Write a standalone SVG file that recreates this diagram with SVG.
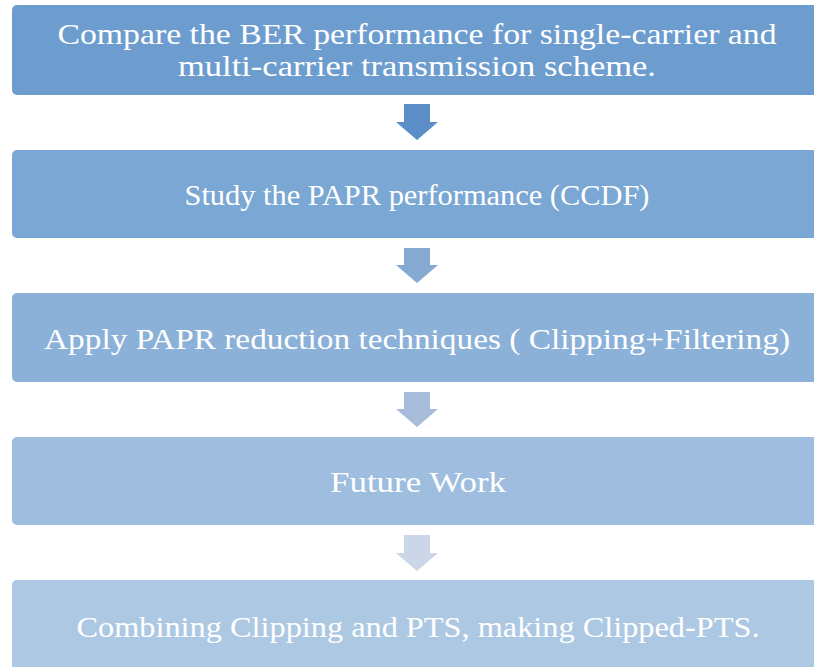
<svg xmlns="http://www.w3.org/2000/svg" width="814" height="667" viewBox="0 0 814 667">
<style>
.box{stroke:none}
.t{font-family:"Liberation Serif",serif;font-size:30px;fill:#ffffff;text-anchor:middle}
</style>
<rect width="814" height="667" fill="#ffffff"/>
<g id="node1">
<rect class="box" x="12" y="5" width="820" height="90" rx="5" fill="#6d9dce"/>
<text class="t" x="417" y="44" textLength="719" lengthAdjust="spacingAndGlyphs">Compare the BER performance for single-carrier and</text>
<text class="t" x="417" y="76" textLength="478" lengthAdjust="spacingAndGlyphs">multi-carrier transmission scheme.</text>
</g>
<g id="node2">
<rect class="box" x="12" y="150" width="820" height="88" rx="5" fill="#7ba7d4"/>
<text class="t" x="417" y="205" textLength="465" lengthAdjust="spacingAndGlyphs">Study the PAPR performance (CCDF)</text>
</g>
<g id="node3">
<rect class="box" x="12" y="293" width="820" height="89" rx="5" fill="#8cb1d9"/>
<text class="t" x="417" y="349" textLength="746" lengthAdjust="spacingAndGlyphs">Apply PAPR reduction techniques ( Clipping+Filtering)</text>
</g>
<g id="node4">
<rect class="box" x="12" y="437" width="820" height="88" rx="5" fill="#9ebddf"/>
<text class="t" x="418" y="492" textLength="176" lengthAdjust="spacingAndGlyphs">Future Work</text>
</g>
<g id="node5">
<rect class="box" x="12" y="580" width="820" height="100" rx="5" fill="#adc8e3"/>
<text class="t" x="418" y="637" textLength="683" lengthAdjust="spacingAndGlyphs">Combining Clipping and PTS, making Clipped-PTS.</text>
</g>
<g id="connectors">
<polygon points="404,104 430,104 430,122 438,122 417,140 396,122 404,122" fill="#5b8dc6"/>
<polygon points="404,248 430,248 430,265 438,265 417,283 396,265 404,265" fill="#86a9d1"/>
<polygon points="404,392 430,392 430,409 438,409 417,427 396,409 404,409" fill="#a8bddc"/>
<polygon points="404,535 430,535 430,553 438,553 417,571 396,553 404,553" fill="#cbd6e8"/>
</g>
</svg>
